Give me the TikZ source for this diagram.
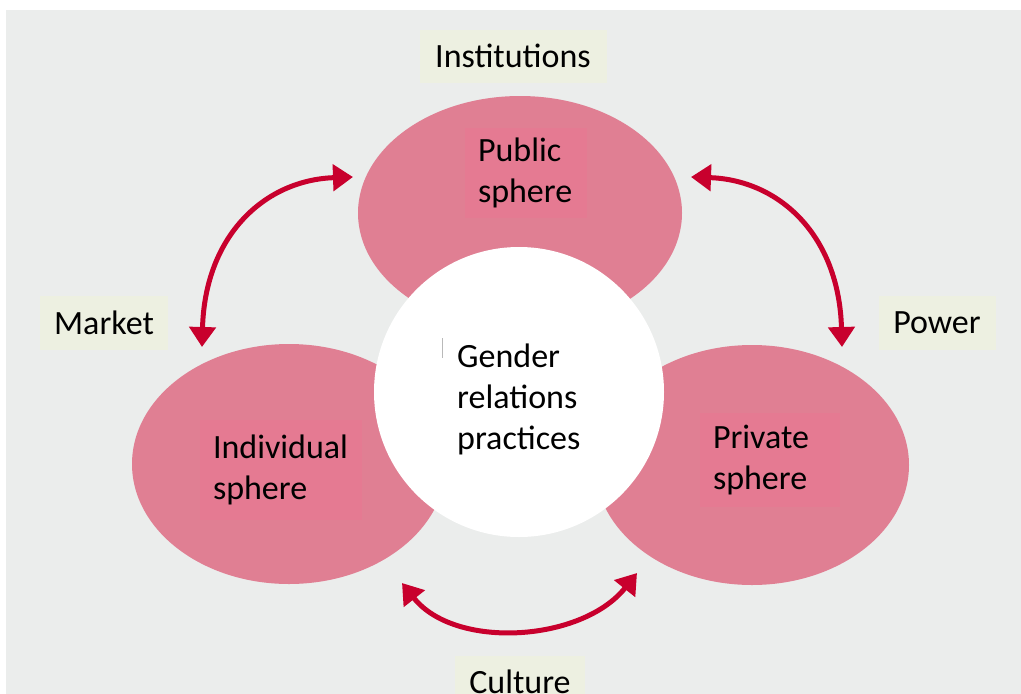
\documentclass[tikz,border=0pt]{standalone}
\usepackage{fontspec}
\setmainfont{Carlito}
\usetikzlibrary{arrows.meta,shapes.geometric}
\definecolor{bggrey}{RGB}{235,237,236}
\definecolor{labelbg}{RGB}{237,240,225}
\definecolor{ellpink}{RGB}{224,127,147}
\definecolor{boxpink}{RGB}{229,122,146}
\definecolor{arcred}{RGB}{200,0,45}
\tikzset{
  txtbox/.style={fill=boxpink, inner ysep=0pt, inner xsep=13pt, align=left, font=\fontsize{34}{41}\selectfont},
  lbl/.style={fill=labelbg, inner sep=0pt, font=\fontsize{34}{41}\selectfont},
  arc/.style={draw=arcred, line width=5pt, {Triangle[length=20pt,width=26pt]}-{Triangle[length=20pt,width=26pt]}}
}
\begin{document}
\begin{tikzpicture}[x=1pt,y=-1pt]
\useasboundingbox (0,0) rectangle (1021,694);
\clip (0,0) rectangle (1021,694);
\fill[bggrey] (6,10) rectangle (1021,694);
% spheres
\fill[ellpink] (520,213) ellipse [x radius=162, y radius=117];
\fill[ellpink] (289,464) ellipse [x radius=157, y radius=120];
\fill[ellpink] (752,465) ellipse [x radius=157, y radius=120];
\node[circle, fill=white, minimum size=290pt, inner sep=0pt] (core) at (519,392) {};
\draw[gray!55, line width=1pt] (442,338) -- (442,358);
% inner text boxes
\node[txtbox, text width=96pt, minimum height=90pt] (pub) at (526,173) {Public\\sphere};
\node[txtbox, text width=136pt, minimum height=100pt] (ind) at (281,470) {Individual\\sphere};
\node[txtbox, text width=114pt, minimum height=94pt] (pri) at (770,460) {Private\\sphere};
\node[anchor=west, inner sep=0pt, align=left, font=\fontsize{34}{41}\selectfont] (gen) at (457,399) {Gender\\relations\\practices};
% outer labels
\node[lbl, minimum width=187pt, minimum height=53pt] (inst) at (513,56) {Institutions};
\node[lbl, minimum width=128pt, minimum height=54pt] (mkt) at (104,323) {Market};
\node[lbl, minimum width=117pt, minimum height=54pt] (pow) at (937,323) {Power};
\node[lbl, minimum width=130pt, minimum height=53pt] (cul) at (520,682) {Culture};
% arrows
\coordinate (l1) at (353,177);
\coordinate (l2) at (202,347);
\coordinate (r1) at (691,177);
\coordinate (r2) at (842,347);
\coordinate (b1) at (402,583);
\coordinate (b2) at (637,573);
\draw[arc] (l1) .. controls (265,180) and (205,235) .. (l2);
\draw[arc] (r1) .. controls (779,180) and (839,235) .. (r2);
\draw[arc] (b1) .. controls (455,650) and (582,642) .. (b2);
\end{tikzpicture}
\end{document}
